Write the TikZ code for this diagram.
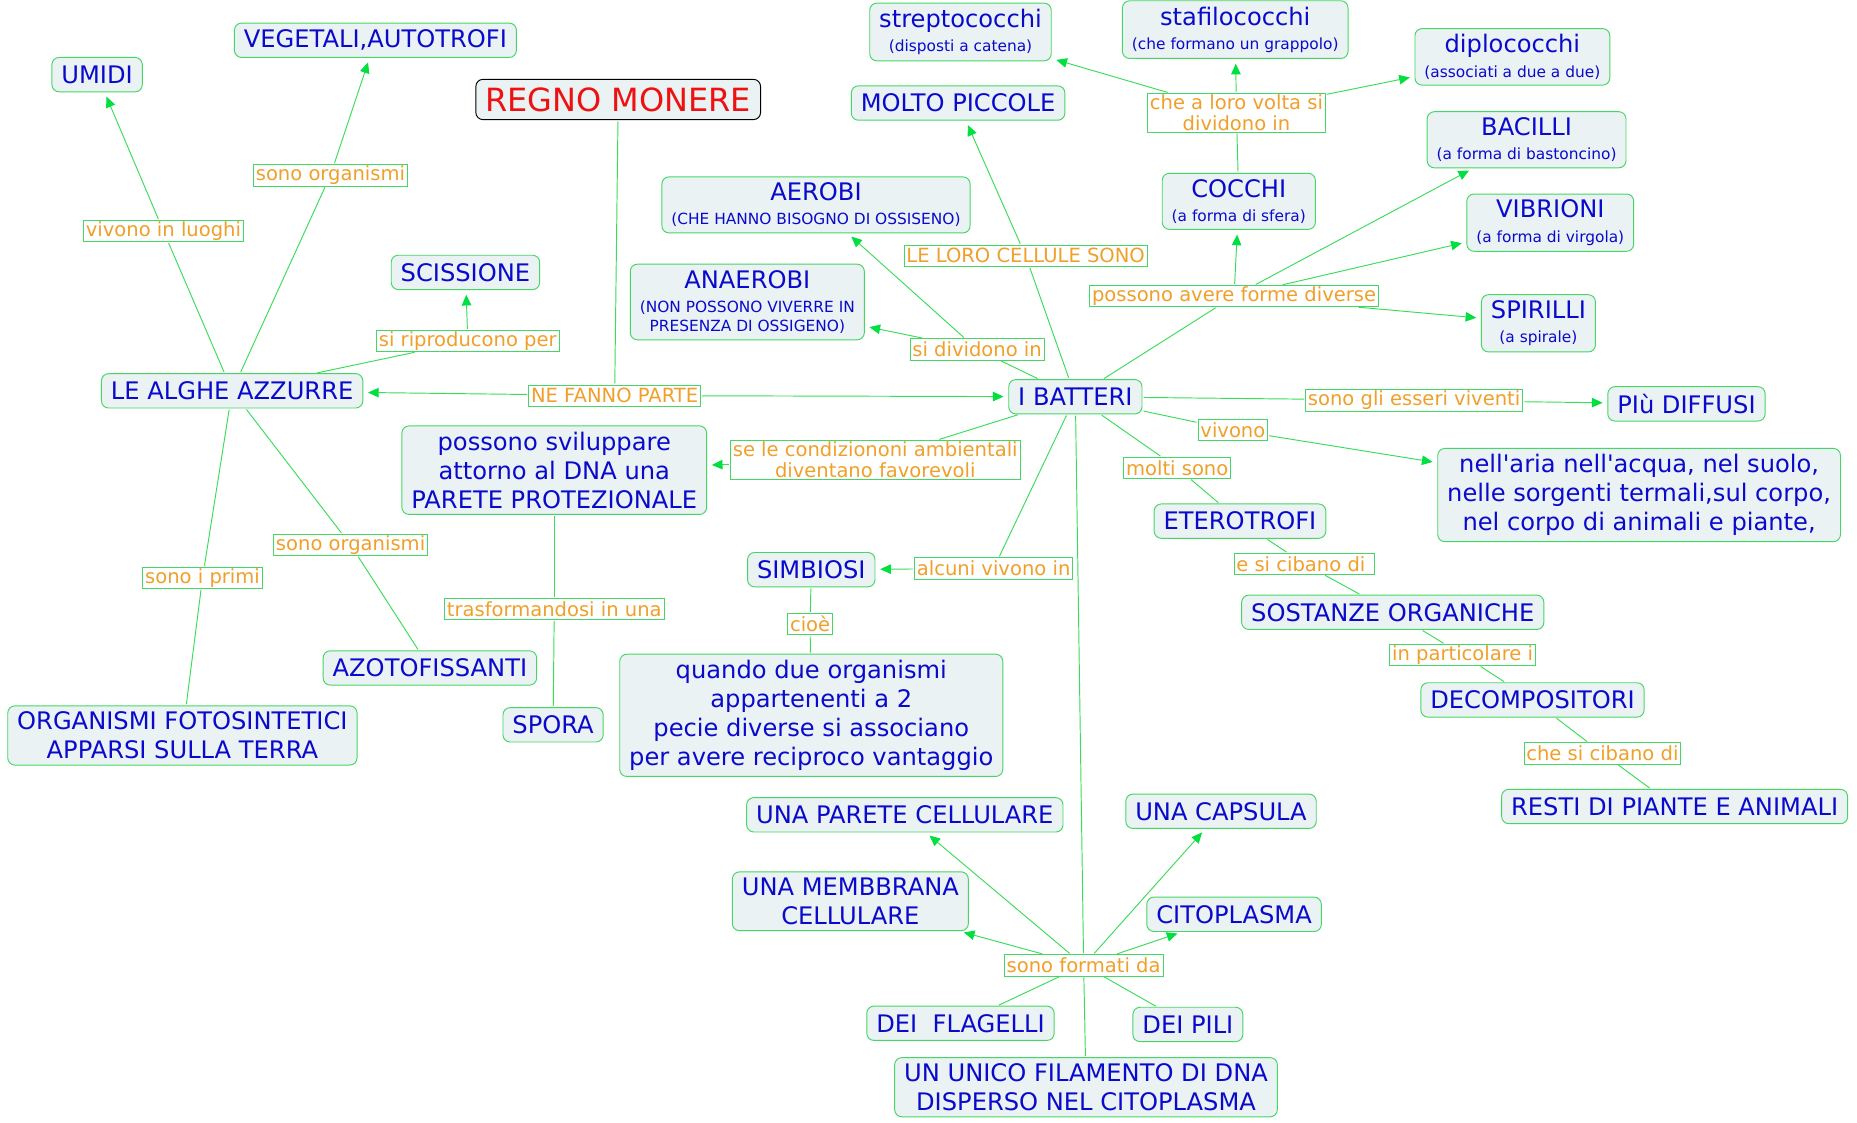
\documentclass[tikz,border=0pt]{standalone}
\usepackage{fontspec}
\newfontfamily\mapfont{DejaVu Sans}
\usepackage{tikz}
\usetikzlibrary{arrows.meta}
\definecolor{BoxFill}{HTML}{EBF2F4}
\definecolor{BoxLine}{HTML}{45D763}
\definecolor{ConcText}{HTML}{0A0ACC}
\definecolor{PhraseText}{HTML}{F0A02A}
\definecolor{LinkLine}{HTML}{3ADD5A}
\definecolor{TipGreen}{HTML}{00E040}
\definecolor{TitleRed}{HTML}{EE1111}
\newcommand{\subl}[1]{{\fontsize{13}{16}\selectfont #1}}

\begin{document}
\begin{tikzpicture}[
  x=1pt,y=-1pt,
  concept/.style={draw=BoxLine,line width=0.8pt,rounded corners=6pt,fill=BoxFill,text=ConcText,align=center,inner xsep=8pt,inner ysep=5pt,minimum height=29pt,font=\mapfont\fontsize{20.4}{24.5}\selectfont},
  regnobox/.style={concept,draw=black,text=TitleRed,minimum height=34pt,font=\mapfont\fontsize{27}{32}\selectfont},
  phrase/.style={draw=BoxLine,line width=0.6pt,fill=white,text=PhraseText,align=center,inner xsep=2pt,inner ysep=1pt,minimum height=18pt,font=\mapfont\fontsize{16.5}{20}\selectfont},
  con/.style={draw=LinkLine,line width=0.8pt,shorten <=1pt,shorten >=1pt},
  arr/.style={con,-{Triangle[length=9pt,width=8pt,color=TipGreen]},shorten >=4pt}
]
\fill[white] (0,0) rectangle (1568,948);
\node[concept] (umidi) at (82,63) {UMIDI};
\node[concept] (veget) at (317,34) {VEGETALI,AUTOTROFI};
\node[regnobox] (regno) at (522,84) {REGNO MONERE};
\node[concept] (strep) at (811,27) {streptococchi\\[-4pt]\subl{(disposti a catena)}};
\node[concept] (stafi) at (1043,25) {stafilococchi\\[-4pt]\subl{(che formano un grappolo)}};
\node[concept] (diplo) at (1277,48) {diplococchi\\[-4pt]\subl{(associati a due a due)}};
\node[concept] (piccole) at (809,87) {MOLTO PICCOLE};
\node[concept] (bacilli) at (1289,118) {BACILLI\\[-4pt]\subl{(a forma di bastoncino)}};
\node[concept] (aerobi) at (689,173) {AEROBI\\[-4pt]\subl{(CHE HANNO BISOGNO DI OSSISENO)}};
\node[concept] (cocchi) at (1046,170) {COCCHI\\[-4pt]\subl{(a forma di sfera)}};
\node[concept] (vibrioni) at (1309,188) {VIBRIONI\\[-4pt]\subl{(a forma di virgola)}};
\node[concept] (sciss) at (393,230) {SCISSIONE};
\node[concept] (anaer) at (631,255) {ANAEROBI\\[-4pt]\subl{(NON POSSONO VIVERRE IN}\\[-8pt]\subl{PRESENZA DI OSSIGENO)}};
\node[concept] (spir) at (1299,273) {SPIRILLI\\[-4pt]\subl{(a spirale)}};
\node[concept] (alghe) at (196,330) {LE ALGHE AZZURRE};
\node[concept] (batteri) at (908,335) {I BATTERI};
\node[concept] (diffusi) at (1424,341) {PIù DIFFUSI};
\node[concept] (svil) at (468,397) {possono sviluppare\\attorno al DNA una\\PARETE PROTEZIONALE};
\node[concept] (habitat) at (1384,418) {nell'aria nell'acqua, nel suolo,\\nelle sorgenti termali,sul corpo,\\nel corpo di animali e piante,};
\node[concept] (etero) at (1047,440) {ETEROTROFI};
\node[concept] (simb) at (685,481) {SIMBIOSI};
\node[concept] (sostanze) at (1176,517) {SOSTANZE ORGANICHE};
\node[concept] (azoto) at (363,564) {AZOTOFISSANTI};
\node[concept] (quando) at (685,604) {quando due organismi\\appartenenti a 2\\pecie diverse si associano\\per avere reciproco vantaggio};
\node[concept] (decomp) at (1294,591) {DECOMPOSITORI};
\node[concept] (fotos) at (154,621) {ORGANISMI FOTOSINTETICI\\APPARSI SULLA TERRA};
\node[concept] (spora) at (467,612) {SPORA};
\node[concept] (resti) at (1414,681) {RESTI DI PIANTE E ANIMALI};
\node[concept] (pcell) at (764,688) {UNA PARETE CELLULARE};
\node[concept] (capsula) at (1031,685) {UNA CAPSULA};
\node[concept] (membr) at (718,761) {UNA MEMBBRANA\\CELLULARE};
\node[concept] (citopl) at (1042,772) {CITOPLASMA};
\node[concept] (flag) at (811,864) {DEI\ \ FLAGELLI};
\node[concept] (pili) at (1003,865) {DEI PILI};
\node[concept] (dna) at (917,918) {UN UNICO FILAMENTO DI DNA\\DISPERSO NEL CITOPLASMA};
\node[phrase] (lOrgA) at (279,148) {sono organismi};
\node[phrase] (lLuoghi) at (138,195) {vivono in luoghi};
\node[phrase] (lVolta) at (1044,95) {che a loro volta si\\[-2pt]dividono in};
\node[phrase] (lCellule) at (866,216) {LE LORO CELLULE SONO};
\node[phrase] (lForme) at (1042,250) {possono avere forme diverse};
\node[phrase] (lRipr) at (395,288) {si riproducono per};
\node[phrase] (lDiv) at (825,295) {si dividono in};
\node[phrase] (lParte) at (519,334) {NE FANNO PARTE};
\node[phrase] (lDiffusi) at (1194,338) {sono gli esseri viventi};
\node[phrase] (lVivono) at (1041,363) {vivono};
\node[phrase] (lCond) at (739,388) {se le condiziononi ambientali\\[-2pt]diventano favorevoli};
\node[phrase] (lMolti) at (994,395) {molti sono};
\node[phrase] (lOrgB) at (296,460) {sono organismi};
\node[phrase] (lPrimi) at (171,488) {sono i primi};
\node[phrase] (lCibano) at (1101,476) {e si cibano di\ };
\node[phrase] (lAlcuni) at (839,480) {alcuni vivono in};
\node[phrase] (lTrasf) at (468,514) {trasformandosi in una};
\node[phrase] (lCioe) at (684,527) {cioè};
\node[phrase] (lPartic) at (1235,553) {in particolare i};
\node[phrase] (lResti) at (1353,636) {che si cibano di};
\node[phrase] (lFormati) at (915,815) {sono formati da};
\draw[con] (alghe) -- (lLuoghi);
\draw[arr] (lLuoghi) -- (umidi);
\draw[con] (alghe) -- (lOrgA);
\draw[arr] (lOrgA) -- (veget);
\draw[con] (alghe) -- (lRipr);
\draw[arr] (lRipr) -- (sciss);
\draw[con] (alghe) -- (lOrgB);
\draw[con] (lOrgB) -- (azoto);
\draw[con] (alghe) -- (lPrimi);
\draw[con] (lPrimi) -- (fotos);
\draw[con] (regno) -- (lParte);
\draw[arr] (lParte) -- (alghe);
\draw[arr] (lParte) -- (batteri);
\draw[con] (batteri) -- (lDiv);
\draw[arr] (lDiv) -- (aerobi);
\draw[arr] (lDiv) -- (anaer);
\draw[con] (batteri) -- (lCellule);
\draw[arr] (lCellule) -- (piccole);
\draw[con] (batteri) -- (lForme);
\draw[arr] (lForme) -- (cocchi);
\draw[arr] (lForme) -- (bacilli);
\draw[arr] (lForme) -- (vibrioni);
\draw[arr] (lForme) -- (spir);
\draw[con] (cocchi) -- (lVolta);
\draw[arr] (lVolta) -- (strep);
\draw[arr] (lVolta) -- (stafi);
\draw[arr] (lVolta) -- (diplo);
\draw[con] (batteri) -- (lDiffusi);
\draw[arr] (lDiffusi) -- (diffusi);
\draw[con] (batteri) -- (lVivono);
\draw[arr] (lVivono) -- (habitat);
\draw[con] (batteri) -- (lMolti);
\draw[con] (lMolti) -- (etero);
\draw[con] (etero) -- (lCibano);
\draw[con] (lCibano) -- (sostanze);
\draw[con] (sostanze) -- (lPartic);
\draw[con] (lPartic) -- (decomp);
\draw[con] (decomp) -- (lResti);
\draw[con] (lResti) -- (resti);
\draw[con] (batteri) -- (lCond);
\draw[arr] (lCond) -- (svil);
\draw[con] (svil) -- (lTrasf);
\draw[con] (lTrasf) -- (spora);
\draw[con] (batteri) -- (lAlcuni);
\draw[arr] (lAlcuni) -- (simb);
\draw[con] (simb) -- (lCioe);
\draw[con] (lCioe) -- (quando);
\draw[con] (batteri) -- (lFormati);
\draw[arr] (lFormati) -- (pcell);
\draw[arr] (lFormati) -- (capsula);
\draw[arr] (lFormati) -- (membr);
\draw[arr] (lFormati) -- (citopl);
\draw[con] (lFormati) -- (flag);
\draw[con] (lFormati) -- (pili);
\draw[con] (lFormati) -- (dna);
\end{tikzpicture}
\end{document}
